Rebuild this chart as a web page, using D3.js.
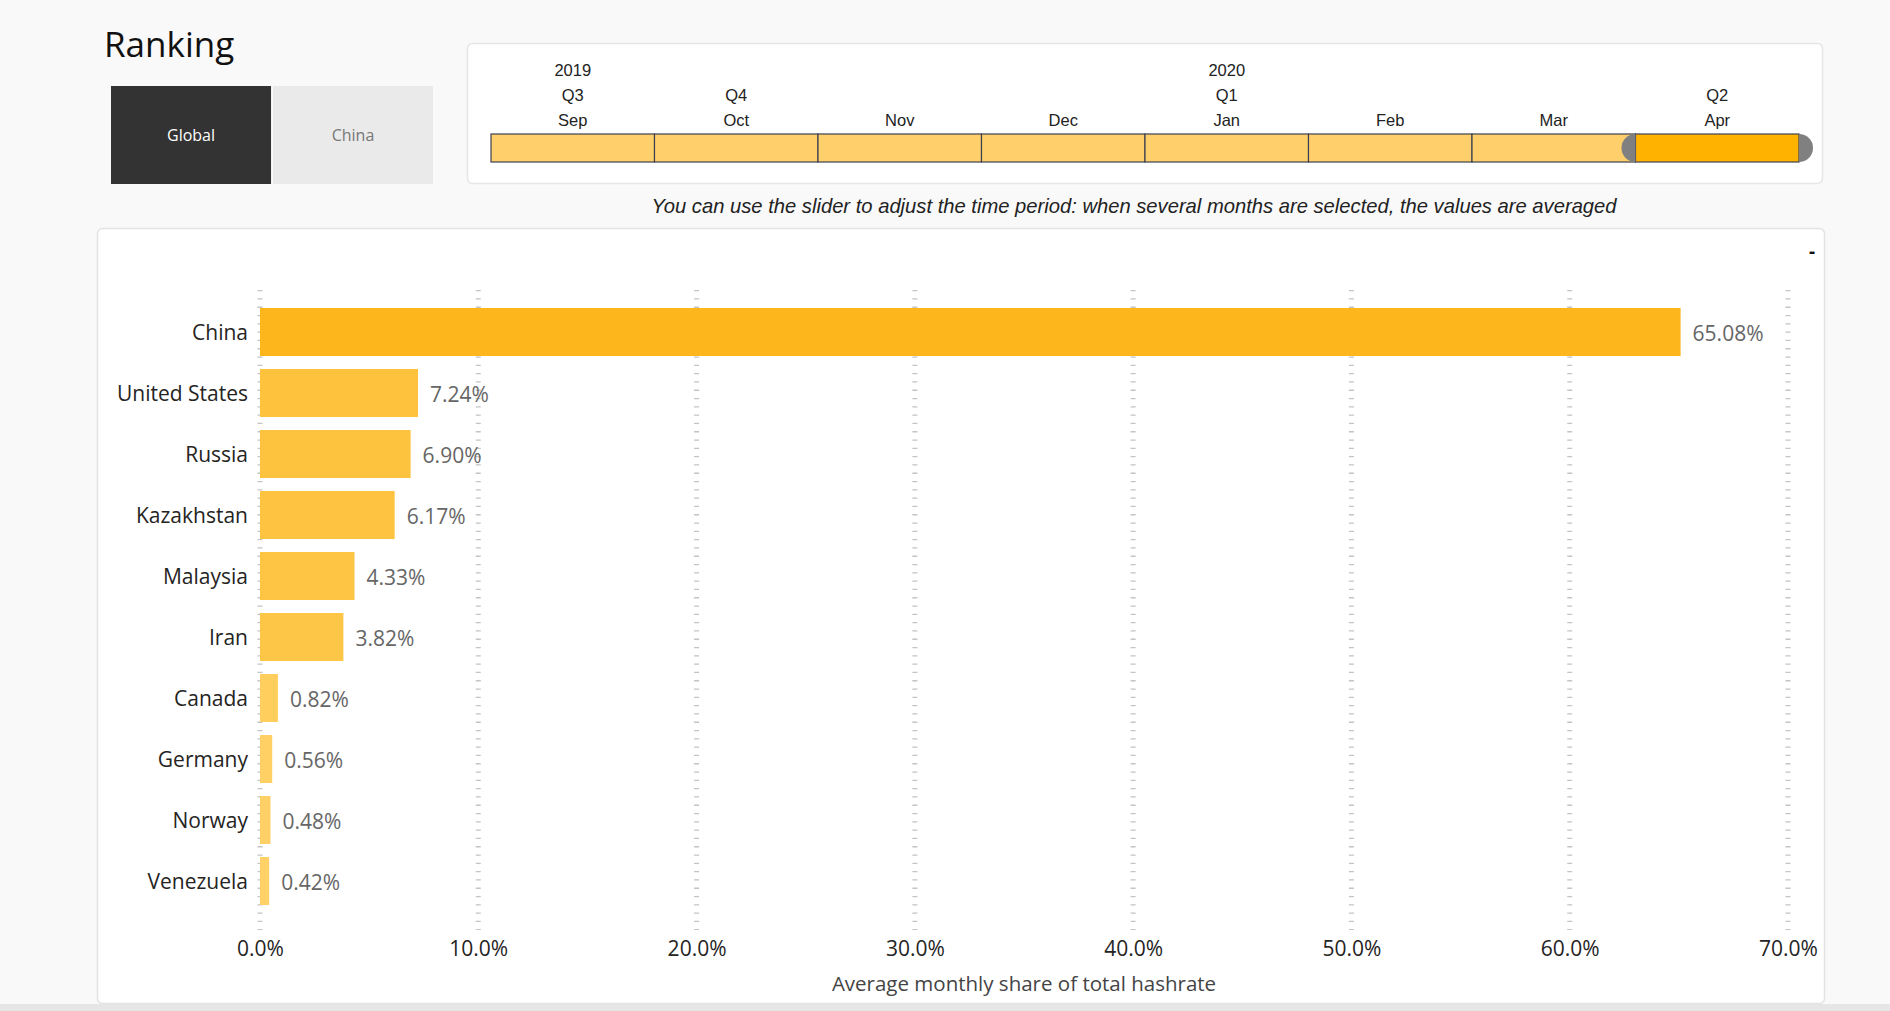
<!DOCTYPE html>
<html>
<head>
<meta charset="utf-8">
<script src="https://cdn.jsdelivr.net/npm/d3@7"></script>
<style>
  html, body { margin: 0; padding: 0; background: #f9f9f9; overflow: hidden; }
  svg { display: block; }
</style>
</head>
<body>
<svg id="chart" width="1890" height="1011"></svg>
<script>
// ---- data ----
const countries = ["China", "United States", "Russia", "Kazakhstan", "Malaysia", "Iran", "Canada", "Germany", "Norway", "Venezuela"];
const shares = [65.08, 7.24, 6.90, 6.17, 4.33, 3.82, 0.82, 0.56, 0.48, 0.42];
const xTicks = [0, 10, 20, 30, 40, 50, 60, 70];
const months = ["Sep", "Oct", "Nov", "Dec", "Jan", "Feb", "Mar", "Apr"];
const quarterLabels = [{m: "Sep", t: "Q3"}, {m: "Oct", t: "Q4"}, {m: "Jan", t: "Q1"}, {m: "Apr", t: "Q2"}];
const yearLabels = [{m: "Sep", t: "2019"}, {m: "Jan", t: "2020"}];
const selectedMonths = ["Apr"];
const toggles = ["Global", "China"];
const activeToggle = "Global";

const svg = d3.select("#chart");
const uiFont = "'Segoe UI', 'Open Sans', 'Noto Sans', sans-serif";
const arial = "'Liberation Sans', Arial, sans-serif";

// bottom gray strip
svg.append("rect").attr("x", 0).attr("y", 1004).attr("width", 1890).attr("height", 7).attr("fill", "#e6e6e6");

// ---- title ----
svg.append("text").attr("x", 104).attr("y", 57).text("Ranking")
  .attr("font-family", uiFont).attr("font-size", 35).attr("fill", "#111");

// ---- toggle buttons ----
const tx = d3.scaleBand().domain(toggles).range([111, 433]).paddingInner(0.012);
const tg = svg.append("g");
tg.selectAll("rect").data(toggles).join("rect")
  .attr("x", d => tx(d)).attr("y", 86).attr("width", tx.bandwidth()).attr("height", 98)
  .attr("fill", d => d === activeToggle ? "#333333" : "#eaeaea");
tg.selectAll("text").data(toggles).join("text")
  .attr("x", d => tx(d) + tx.bandwidth() / 2).attr("y", 141)
  .attr("text-anchor", "middle").attr("font-family", uiFont).attr("font-size", 16)
  .attr("fill", d => d === activeToggle ? "#ffffff" : "#777")
  .text(d => d);

// ---- slider panel ----
svg.append("rect").attr("x", 467.5).attr("y", 43.5).attr("width", 1355).attr("height", 140)
  .attr("rx", 5).attr("fill", "#fff").attr("stroke", "#e6e6e6").attr("stroke-width", 1.5);

const mx = d3.scaleBand().domain(months).range([491, 1799]);
const sg = svg.append("g");
const selStart = mx(selectedMonths[0]);
const selEnd = mx(selectedMonths[selectedMonths.length - 1]) + mx.bandwidth();
// segments
sg.selectAll("rect.seg").data(months).join("rect").attr("class", "seg")
  .attr("x", d => mx(d)).attr("y", 134).attr("width", mx.bandwidth()).attr("height", 28)
  .attr("fill", d => selectedMonths.includes(d) ? "#ffb300" : "#ffcf6b")
  .attr("stroke", "#3c4050").attr("stroke-width", 1.2);
// handles (outer halves visible)
sg.selectAll("path.handle").data([{x: selStart, side: -1}, {x: selEnd, side: 1}]).join("path")
  .attr("class", "handle")
  .attr("d", d => {
    const r = 14, cy = 148;
    return `M${d.x},${cy - r} A${r},${r} 0 0 ${d.side > 0 ? 1 : 0} ${d.x},${cy + r} Z`;
  })
  .attr("fill", "#808080");

sg.selectAll("text.month").data(months).join("text").attr("class", "month")
  .attr("x", d => mx(d) + mx.bandwidth() / 2).attr("y", 126)
  .attr("text-anchor", "middle").attr("font-family", arial).attr("font-size", 16.5).attr("fill", "#222")
  .text(d => d);
sg.selectAll("text.q").data(quarterLabels).join("text").attr("class", "q")
  .attr("x", d => mx(d.m) + mx.bandwidth() / 2).attr("y", 101)
  .attr("text-anchor", "middle").attr("font-family", arial).attr("font-size", 16.5).attr("fill", "#222")
  .text(d => d.t);
sg.selectAll("text.yr").data(yearLabels).join("text").attr("class", "yr")
  .attr("x", d => mx(d.m) + mx.bandwidth() / 2).attr("y", 76)
  .attr("text-anchor", "middle").attr("font-family", arial).attr("font-size", 16.5).attr("fill", "#222")
  .text(d => d.t);

// subtitle
svg.append("text").attr("x", 1134).attr("y", 213).attr("text-anchor", "middle")
  .attr("font-family", arial).attr("font-style", "italic").attr("font-size", 20.2).attr("fill", "#222")
  .text("You can use the slider to adjust the time period: when several months are selected, the values are averaged");

// ---- chart panel ----
svg.append("rect").attr("x", 97.5).attr("y", 228.5).attr("width", 1727).attr("height", 775)
  .attr("rx", 5).attr("fill", "#fff").attr("stroke", "#e3e3e3").attr("stroke-width", 1.5);
svg.append("text").attr("x", 1812).attr("y", 258).attr("text-anchor", "middle")
  .attr("font-family", uiFont).attr("font-size", 19).attr("font-weight", "bold").attr("fill", "#111").text("-");

const x = d3.scaleLinear().domain([0, 70]).range([260, 1788]);
const y = d3.scaleBand().domain(countries).range([301.5, 911.5]).paddingInner(0.213).paddingOuter(0.1065);
const color = d3.scaleLog().domain([d3.min(shares), d3.max(shares)]).range(["#ffd167", "#fdb71d"]);

// gridlines
const gg = svg.append("g");
gg.selectAll("line").data(xTicks).join("line")
  .attr("x1", d => x(d)).attr("x2", d => x(d)).attr("y1", 290).attr("y2", 930)
  .attr("stroke", "#c4c4c4").attr("stroke-width", 5).attr("stroke-dasharray", "1.3 7");

// x axis labels
const xAxis = d3.axisBottom(x).tickValues(xTicks).tickSize(0).tickFormat(d => d.toFixed(1) + "%");
const xg = svg.append("g").attr("transform", "translate(0,938)").call(xAxis);
xg.select(".domain").remove();
xg.selectAll("text").attr("font-family", uiFont).attr("font-size", 21).attr("fill", "#252423").attr("dy", "0.71em");

// axis title
svg.append("text").attr("x", 1024).attr("y", 991).attr("text-anchor", "middle")
  .attr("font-family", uiFont).attr("font-size", 20.5).attr("fill", "#444")
  .text("Average monthly share of total hashrate");

// y axis labels
const yAxis = d3.axisLeft(y).tickSize(0).tickPadding(0);
const yg = svg.append("g").attr("transform", "translate(248,0)").call(yAxis);
yg.select(".domain").remove();
yg.selectAll("text").attr("font-family", uiFont).attr("font-size", 21).attr("fill", "#252423").attr("dy", "0.4em");

// bars
const data = countries.map((c, i) => ({c, v: shares[i]}));
svg.append("g").selectAll("rect").data(data).join("rect")
  .attr("x", x(0)).attr("y", d => y(d.c))
  .attr("width", d => x(d.v) - x(0)).attr("height", y.bandwidth())
  .attr("fill", d => color(d.v));

// value labels
svg.append("g").selectAll("text").data(data).join("text")
  .attr("x", d => x(d.v) + 12).attr("y", d => y(d.c) + y.bandwidth() / 2).attr("dy", "0.42em")
  .attr("font-family", uiFont).attr("font-size", 21).attr("fill", "#666")
  .text(d => d.v.toFixed(2) + "%");
</script>
</body>
</html>
